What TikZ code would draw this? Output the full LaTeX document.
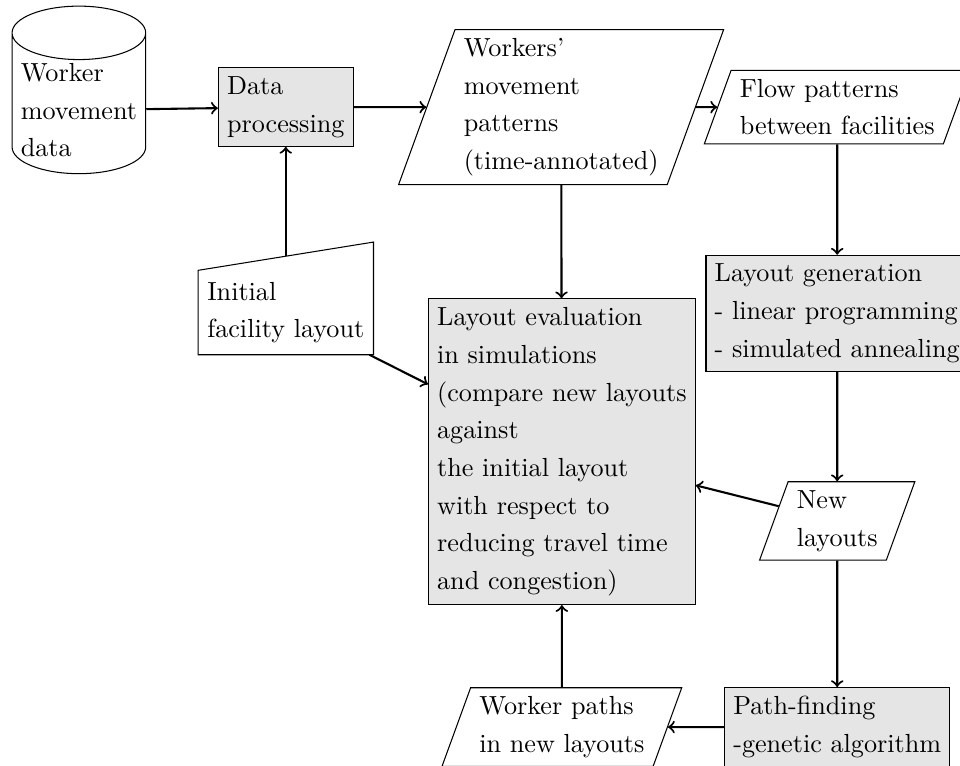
\documentclass[tikz,border=0pt]{standalone}
\usepackage{amsmath}
\usepackage{tikz}
\usetikzlibrary{shapes.geometric}
\usetikzlibrary{calc}

\begin{document}
\begin{tikzpicture}[font=\fontsize{10}{14.4}\selectfont,
  proc/.style={draw, fill=gray!20, align=left},
  io/.style={draw, trapezium, trapezium left angle=70, trapezium right angle=110, align=left}]
  \useasboundingbox (0,0) rectangle (12.90,10.28);
  % top row
  \node [draw, cylinder, shape border rotate=90, aspect=0.4, inner ysep=1.2pt, align=left] (wmd) at (1.06,8.80) {Worker\\movement\\data};
  \node [proc] (dp) at (3.84,8.84) {Data\\processing};
  \node [io] (wmp) at (7.54,8.84) {Workers'\\movement\\patterns\\(time-annotated)};
  \node [io] (fpb) at (11.25,8.84) {Flow patterns\\between facilities};
  % middle
  \node [minimum height=1.12cm, align=left] (init) at (3.84,6.08) {Initial\\facility layout};
  \draw (init.south west) -- (init.south east) -- ($(init.north east)+(0,0.38)$) -- (init.north west) -- cycle;
  \coordinate (initTop) at ($(init.north)+(0,0.19)$);
  \node [proc] (eval) at (7.55,4.21) {Layout evaluation\\in simulations\\(compare new layouts\\against\\the initial layout\\with respect to\\reducing travel time\\and congestion)};
  \node [proc] (lgen) at (11.25,6.07) {Layout generation\\- linear programming\\- simulated annealing};
  \node [io] (newl) at (11.25,3.28) {New\\layouts};
  % bottom row
  \node [proc] (pf) at (11.25,0.51) {Path-finding\\-genetic algorithm};
  \node [io] (wpn) at (7.55,0.51) {Worker paths\\in new layouts};

  \draw [->, thick] (wmd) -- (dp);
  \draw [->, thick] (dp) -- (wmp);
  \draw [->, thick] (wmp) -- (fpb);
  \draw [->, thick] (initTop) -- (dp);
  \draw [->, thick] (wmp) -- (eval);
  \draw [->, thick] (init) -- (eval);
  \draw [->, thick] (fpb) -- (lgen);
  \draw [->, thick] (lgen) -- (newl);
  \draw [->, thick] (newl) -- (eval);
  \draw [->, thick] (newl) -- (pf);
  \draw [->, thick] (pf) -- (wpn);
  \draw [->, thick] (wpn) -- (eval);
\end{tikzpicture}
\end{document}
